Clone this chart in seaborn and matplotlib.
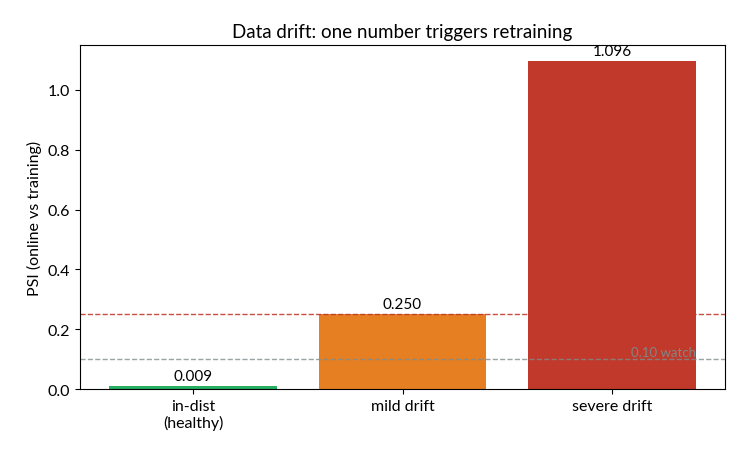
import matplotlib
matplotlib.use('Agg')
import matplotlib.pyplot as plt
import seaborn as sns
import pandas as pd

categories = ['in-dist\n(healthy)', 'mild drift', 'severe drift']
psi_values = [0.009, 0.250, 1.096]
bar_colors = ['#27ae60', '#e67e22', '#c0392b']
watch_level = 0.10
alert_level = 0.25

sns.set_style('ticks')
plt.rcParams['font.family'] = ['Lato', 'DejaVu Sans']
plt.rcParams['text.color'] = 'black'
plt.rcParams['axes.labelcolor'] = 'black'
plt.rcParams['xtick.color'] = 'black'
plt.rcParams['ytick.color'] = 'black'

df = pd.DataFrame({'case': categories, 'psi': psi_values})

fig, ax = plt.subplots(figsize=(7.44, 4.56), dpi=100)
sns.barplot(data=df, x='case', y='psi', hue='case', palette=bar_colors,
            legend=False, width=0.8, saturation=1, linewidth=0,
            edgecolor='none', ax=ax)

ax.axhline(alert_level, color='#c0392b', linestyle='--', linewidth=1, alpha=0.9)
ax.axhline(watch_level, color='#7f8c8d', linestyle='--', linewidth=1, alpha=0.8)
ax.text(2.4, watch_level + 0.003, '0.10 watch', ha='right', va='bottom',
        color='#7f8c8d', fontsize=9.5, alpha=0.9)

for i, v in enumerate(psi_values):
    ax.text(i, v + 0.01, f'{v:.3f}', ha='center', va='bottom', fontsize=11)

ax.set_xlim(-0.54, 2.54)
ax.set_ylim(0, 1.15)
ax.set_xlabel('')
ax.set_ylabel('PSI (online vs training)', fontsize=11.5)
ax.set_title('Data drift: one number triggers retraining', fontsize=13.5)
ax.tick_params(labelsize=11.5)
for s in ax.spines.values():
    s.set_visible(True)
    s.set_color('black')

fig.subplots_adjust(left=0.1075, right=0.9745, top=0.899, bottom=0.1447)
plt.savefig('out.png', dpi=100)
